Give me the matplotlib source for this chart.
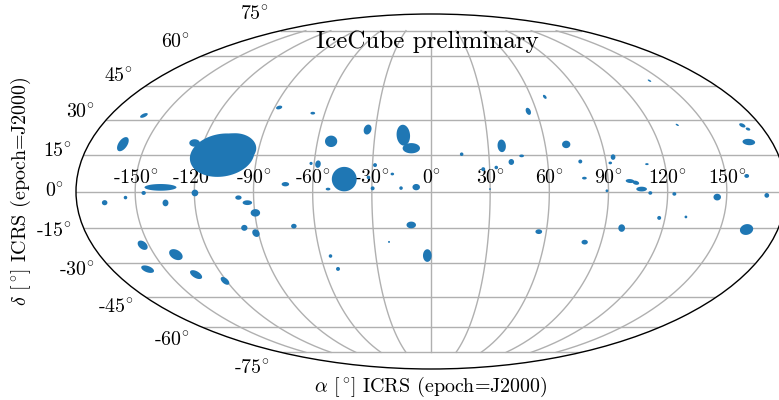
import numpy as np
import matplotlib
matplotlib.use("Agg")
import matplotlib.pyplot as plt
from matplotlib.transforms import Affine2D

# source regions on the sky, degrees
ra = [-161.1, -162.1, -108.2, -102.4, -115.0, -124.6, -137.2, -165.8, -155.0, -145.7, -134.9, -119.7,
      -97.7, -93.3, -89.7, -96.7, -91.3, -153.4, -138.4, -159.8, -134.8, -120.9,
      -87.4, -66.8, -52.8, -34.3, -14.8, -10.3, -58.0, -61.6, -44.1, -73.9,
      -52.2, -28.7, -19.7, -29.6, -15.2, -7.5, -31.8, -70.9, -10.2, -22.2,
      -54.7, -52.4, -2.0, 141.8, 68.2, 55.3, 134.7, 170.1, 171.7, 167.8,
      71.1, 37.1, 15.9, 46.9, 41.3, 33.4, 26.7, 29.9, 76.8, 78.0,
      94.1, 92.1, 110.8, 160.7, 101.1, 104.0, 106.8, 89.2, 111.2, 123.4,
      145.2, 170.3, 117.0, 130.6, 98.8, 163.8, 56.1, 81.3]
dec = [31.9, 19.6, 15.0, 17.9, 11.7, 20.1, 1.7, -4.6, -2.5, -0.6, -4.7, -0.6,
       -2.5, -4.6, -8.8, -15.0, -17.2, -22.3, -26.3, -32.6, -35.0, -37.8,
       35.4, 32.9, 20.8, 25.8, 23.4, 17.9, 11.3, 11.6, 5.1, 3.0,
       1.0, 10.9, 7.2, 1.3, 1.4, 1.8, 5.8, -14.3, -13.8, -20.9,
       -26.9, -32.5, -26.7, 47.7, 40.2, 33.7, 27.8, 27.6, 26.0, 20.5,
       19.5, 18.9, 15.4, 14.7, 12.2, 9.9, 9.2, 1.0, 12.4, 5.5,
       14.2, 11.8, 11.3, 6.4, 4.3, 3.6, 1.0, 0.3, -0.6, -1.0,
       -2.3, -1.6, -10.9, -10.5, -15.1, -15.7, -16.6, -21.0]
# semi axes, degrees along the projected plane
major = [2.1, 4.1, 16.5, 10.7, 7.5, 2.7, 8.1, 1.4, 0.9, 1.1, 1.7, 1.7,
         1.6, 2.4, 2.4, 1.6, 2.1, 2.9, 3.7, 3.4, 3.4, 2.6,
         1.6, 1.2, 3.1, 2.6, 5.3, 4.4, 1.9, 0.8, 6.3, 1.9,
         1.2, 1.0, 0.9, 1.0, 0.9, 1.9, 0.9, 1.4, 2.4, 0.5,
         0.9, 1.0, 3.2, 1.0, 1.2, 1.9, 0.9, 1.7, 1.2, 3.2,
         2.1, 3.2, 0.9, 1.2, 1.5, 0.9, 1.0, 0.5, 1.0, 1.2,
         1.4, 0.9, 0.9, 1.2, 2.2, 1.7, 2.7, 0.7, 1.0, 1.0,
         1.9, 1.2, 1.0, 0.7, 1.9, 3.4, 1.7, 1.6]
minor = [0.9, 2.2, 10.8, 7.6, 5.5, 1.9, 1.7, 1.3, 0.9, 1.0, 1.5, 1.7,
         1.1, 1.2, 1.9, 1.5, 1.7, 1.9, 2.4, 1.6, 1.7, 1.4,
         0.9, 0.7, 2.9, 1.9, 3.4, 2.6, 1.4, 0.8, 6.2, 1.1,
         0.7, 1.0, 0.7, 1.0, 0.9, 1.6, 0.9, 1.2, 1.7, 0.5,
         0.9, 1.0, 2.2, 0.4, 0.7, 1.2, 0.4, 0.9, 0.7, 1.6,
         1.9, 2.1, 0.9, 0.7, 1.4, 0.9, 1.0, 0.4, 1.0, 0.7,
         1.2, 0.7, 0.5, 1.0, 1.0, 1.0, 1.2, 0.7, 0.9, 0.9,
         1.7, 1.2, 1.0, 0.7, 1.7, 2.7, 1.2, 1.2]
tilt = [25, 55, 10, 0, 0, 0, 0, 0, 0, 0, 90, 0,
        0, 0, 0, 0, -50, -40, -30, -20, -30, -40,
        15, 0, 0, 70, 95, 0, 80, 0, 0, 0,
        0, 0, 0, 0, 0, 0, 0, 0, 0, 0,
        0, 0, 90, -30, -50, -65, -30, -25, -20, -5,
        0, -85, 0, 0, 90, 0, 0, 0, 0, 0,
        90, 0, 0, 0, -5, -15, 0, 0, 0, 0,
        0, 0, 0, 0, 90, 15, 0, 0]

lon_labels = [-150, -120, -90, -60, -30, 0, 30, 60, 90, 120, 150]
lat_labels = [-75, -60, -45, -30, -15, 0, 15, 30, 45, 60, 75]

plt.rcParams["font.family"] = ["cmr10", "DejaVu Serif"]
plt.rcParams["mathtext.fontset"] = "cm"
plt.rcParams["axes.unicode_minus"] = False
plt.rcParams["axes.formatter.use_mathtext"] = True

fig = plt.figure(figsize=(7.79, 4.0), dpi=100)
ax = fig.add_axes([76 / 779, 30 / 400, 710 / 779, 357 / 400], projection="mollweide")

ax.set_xticks(np.radians(lon_labels))
ax.set_yticks(np.radians(lat_labels))
ax.set_xticklabels([f"{v}$\\!^\\circ$" for v in lon_labels])
ax.set_yticklabels([f"{v}$\\!^\\circ$" for v in lat_labels])
ax.tick_params(labelsize=14.4)
ax.grid(True, color="#b0b0b0", linewidth=1.0)
for spine in ax.spines.values():
    spine.set_linewidth(1.0)

# push the latitude labels a bit further off the outline
for lbl in ax.get_yticklabels():
    lbl.set_transform(lbl.get_transform() + Affine2D().translate(-4, 0))

# ellipses are laid out in the projected plane around each projected centre
deg = 2 * np.sqrt(2) / 180
t = np.linspace(0, 2 * np.pi, 80)
to_display = ax.transAffine + ax.transAxes
for r, d, a, b, p in zip(ra, dec, major, minor, tilt):
    cx, cy = ax.transProjection.transform([[np.radians(r), np.radians(d)]])[0]
    u = a * deg * np.cos(t)
    v = b * deg * np.sin(t)
    phi = np.radians(p)
    x = cx + u * np.cos(phi) - v * np.sin(phi)
    y = cy + u * np.sin(phi) + v * np.cos(phi)
    ax.fill(x, y, color="#1f77b4", linewidth=0, transform=to_display, zorder=3)

ax.text(0.4955, 0.905, "IceCube preliminary", transform=ax.transAxes,
        ha="center", va="baseline", fontsize=18, zorder=5)

ax.set_xlabel(r"$\alpha$ [$^\circ\!$] ICRS (epoch=J2000)", fontsize=14.4, labelpad=4)
ax.set_ylabel(r"$\delta$ [$^\circ\!$] ICRS (epoch=J2000)", fontsize=14.4)
ax.yaxis.set_label_coords(-0.06, 0.5)

fig.savefig("out.png", dpi=100)
